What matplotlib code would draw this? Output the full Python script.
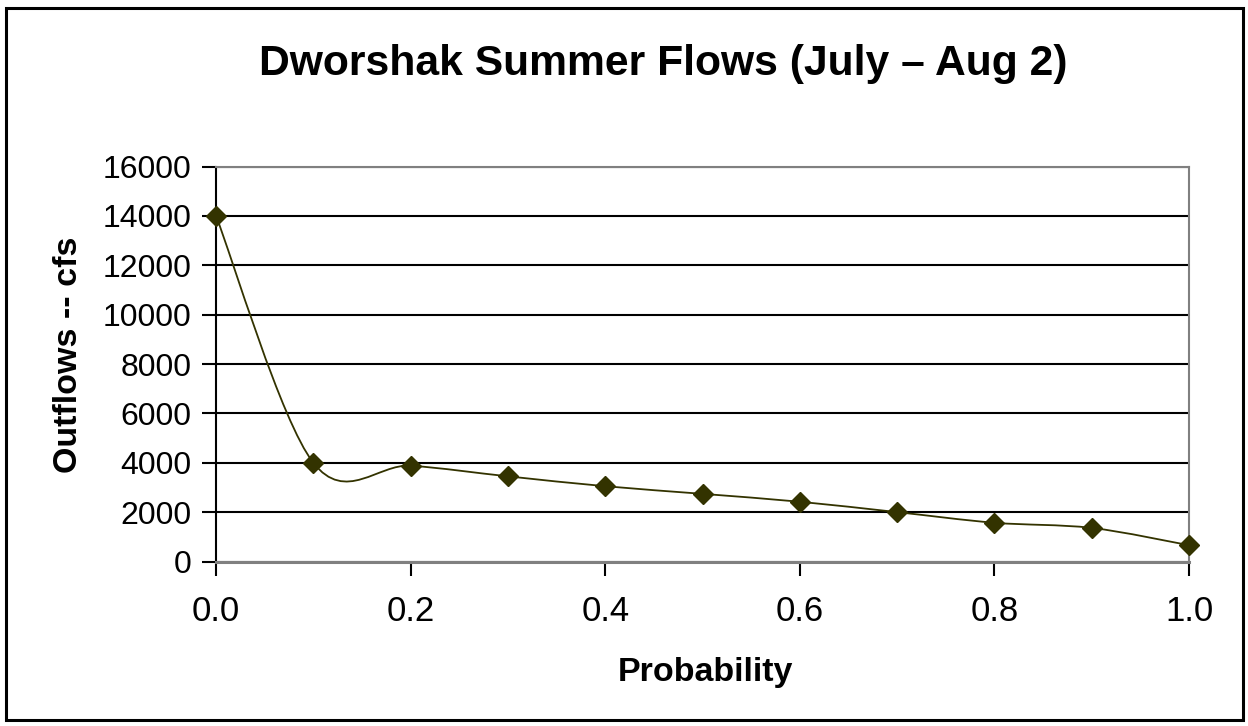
import matplotlib
matplotlib.use("Agg")
import matplotlib.pyplot as plt
from matplotlib.path import Path
from matplotlib.patches import PathPatch, Rectangle
import numpy as np

plt.rcParams['font.family'] = ['Liberation Sans', 'DejaVu Sans']

probability = [0.0, 0.1, 0.2, 0.3, 0.4, 0.5, 0.6, 0.7, 0.8, 0.9, 1.0]
outflows = [14000, 4000, 3880, 3450, 3050, 2740, 2420, 2000, 1570, 1360, 660]
yticks = [0, 2000, 4000, 6000, 8000, 10000, 12000, 14000, 16000]
xticks = [0.0, 0.2, 0.4, 0.6, 0.8, 1.0]
title = "Dworshak Summer Flows (July \u2013 Aug 2)"
xlabel = "Probability"
ylabel = "Outflows -- cfs"

color = "#333300"

fig = plt.figure(figsize=(12.48, 7.26), dpi=100)
W, H = 1248, 726
left, right, top, bottom = 216, 1189, 166.5, 561.5
ax = fig.add_axes([left / W, 1 - bottom / H, (right - left) / W, (bottom - top) / H])

ax.set_xlim(0, 1)
ax.set_ylim(0, 16000)
ax.set_yticks(yticks)
ax.set_xticks(xticks)
ax.set_xticklabels([f"{v:.1f}" for v in xticks])
ax.tick_params(axis='both', direction='out', length=10, width=1.5, color='black')
ax.tick_params(axis='y', labelsize=23, pad=7.5)
ax.tick_params(axis='x', labelsize=25, pad=14)
ax.set_axisbelow(True)
ax.yaxis.grid(True, color='black', linewidth=1.5)

for s in ['top', 'right']:
    ax.spines[s].set_color('#808080')
    ax.spines[s].set_linewidth(1.5)
ax.spines['bottom'].set_color('#808080')
ax.spines['bottom'].set_linewidth(2.2)
ax.spines['left'].set_color('black')
ax.spines['left'].set_linewidth(1.5)

# Smoothed line (Catmull-Rom as cubic Bezier, like Excel's smoothed line)
pts = np.column_stack([probability, outflows]).astype(float)
n = len(pts)
verts = [tuple(pts[0])]
codes = [Path.MOVETO]
for i in range(n - 1):
    p0 = pts[i - 1] if i > 0 else pts[i]
    p1 = pts[i]
    p2 = pts[i + 1]
    p3 = pts[i + 2] if i + 2 < n else pts[i + 1]
    c1 = p1 + (p2 - p0) / 6.0
    c2 = p2 - (p3 - p1) / 6.0
    verts += [tuple(c1), tuple(c2), tuple(p2)]
    codes += [Path.CURVE4] * 3
patch = PathPatch(Path(verts, codes), facecolor='none', edgecolor=color,
                  linewidth=1.3, zorder=3)
ax.add_patch(patch)
ax.plot(probability, outflows, linestyle='none', marker='D', markersize=10,
        color=color, markeredgecolor=color, zorder=4, clip_on=False)

fig.text(663.5 / W, 1 - 75 / H, title, ha='center', va='baseline', fontsize=30.7,
         fontweight='bold')
fig.text(705 / W, 1 - 681 / H, xlabel, ha='center', va='baseline', fontsize=24.5,
         fontweight='bold')
fig.text(77 / W, 1 - 355 / H, ylabel, ha='center', va='baseline', fontsize=24.5,
         fontweight='bold', rotation=90, rotation_mode='anchor')

fig.patches.append(Rectangle((6 / W, 1 - 720 / H), (1243 - 6) / W, (720 - 8) / H,
                             transform=fig.transFigure, fill=False,
                             edgecolor='black', linewidth=2.2))

fig.savefig("out.png", dpi=100, facecolor='white')
